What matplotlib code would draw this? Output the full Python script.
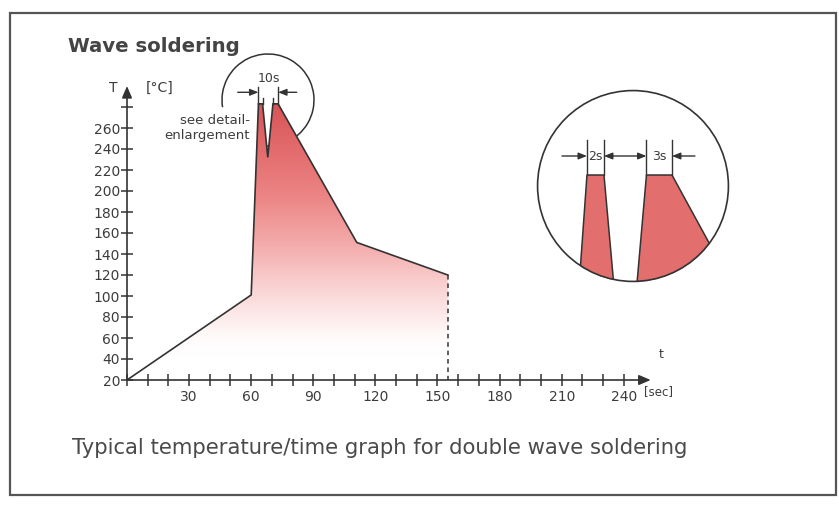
import numpy as np
import matplotlib
matplotlib.use("Agg")
import matplotlib.pyplot as plt
from matplotlib.patches import Polygon, Circle, Arc, Rectangle
from matplotlib.colors import LinearSegmentedColormap

# ---------------- data ----------------
time_s = [0, 60, 63.5, 65.5, 68, 70.5, 73, 111, 155]
temp_c = [20, 101, 283, 283, 232, 283, 283, 151, 120]
end_time = 155
x_major = [30, 60, 90, 120, 150, 180, 210, 240]
x_minor = list(range(0, 250, 10))
y_ticks = list(range(20, 300, 20))
y_labels = [str(v) if v <= 260 else "" for v in y_ticks]

# detail enlargement (schematic)
det1_t = [-1.06, 0, 2, 3.33]
det1_T = [220, 283, 283, 220]
det2_t = [5.7, 7, 10, 18.1]
det2_T = [220, 283, 283, 220]

TXT = "#3c3c3c"
LINE = "#333333"
W, H = 839, 505
fig = plt.figure(figsize=(W / 100, H / 100), dpi=100)
fig.patch.set_facecolor("white")

def fx(px):
    return px / W

def fy(py):
    return 1 - py / H

# overlay axes in pixel coordinates for frame and decorations
ov = fig.add_axes([0, 0, 1, 1])
ov.set_xlim(0, W)
ov.set_ylim(H, 0)
ov.axis("off")
ov.add_patch(Rectangle((10, 13), 826, 482, fill=False, ec="#555555", lw=1.6))
ov.text(68, 47, "Wave soldering", fontsize=14.2, fontweight="bold", color="#444444",
        ha="left", va="center")
ov.text(72, 448, "Typical temperature/time graph for double wave soldering",
        fontsize=15.2, color="#4a4a4a", ha="left", va="center")
ov.text(113, 88, "T", fontsize=10, color=TXT, ha="center", va="center")
ov.text(146, 88, "[°C]", fontsize=10, color=TXT, ha="left", va="center")
ov.text(661, 355, "t", fontsize=9, color=TXT, ha="center", va="center")
ov.text(644, 392, "[sec]", fontsize=8.5, color=TXT, ha="left", va="center")
ov.text(250, 128, "see detail-\nenlargement", fontsize=9.5, color=TXT, ha="right",
        va="center", linespacing=1.1)
# small magnifier circle (with gap behind text)
ov.add_patch(Arc((268, 100), 92, 92, theta1=171, theta2=104, color=LINE, lw=1.1))

# ---------------- main axes ----------------
x0, x1 = 0, 253
y0, y1 = 20, 300
ax = fig.add_axes([fx(127), fy(380), fx(127 + (x1 - x0) * 2.07) - fx(127),
                   fy(380 - (y1 - y0) * 1.05) - fy(380)])
ax.set_xlim(x0, x1)
ax.set_ylim(y0, y1)
ax.patch.set_alpha(0)
for s in ax.spines.values():
    s.set_visible(False)

cmap = LinearSegmentedColormap.from_list(
    "heat",
    [(0.0, (1, 1, 1)),
     (0.08, (1, 0.985, 0.985)),
     (0.25, (0.985, 0.85, 0.85)),
     (0.45, (0.955, 0.67, 0.67)),
     (0.65, (0.925, 0.51, 0.51)),
     (1.0, (0.85, 0.33, 0.34))])
poly_pts = list(zip(time_s, temp_c)) + [(end_time, 20), (0, 20)]
clip_poly = Polygon(poly_pts, closed=True, fc="none", ec="none")
ax.add_patch(clip_poly)
grad = np.clip((np.linspace(20, 283, 256) - 40) / (283 - 40), 0, 1).reshape(-1, 1)
im = ax.imshow(grad, cmap=cmap, origin="lower", aspect="auto",
               extent=(0, end_time, 20, 283), vmin=0, vmax=1, zorder=1)
im.set_clip_path(clip_poly)
ax.plot(time_s, temp_c, color=LINE, lw=1.2, zorder=3, solid_joinstyle="miter")
ax.plot([end_time, end_time], [temp_c[-1], 20], color=LINE, lw=1.1,
        ls=(0, (3, 2.5)), zorder=3)

# axes arrows
ax.annotate("", xy=(x1, 20), xytext=(0, 20), annotation_clip=False,
            arrowprops=dict(arrowstyle="-|>,head_length=0.7,head_width=0.3",
                            color=LINE, lw=1.2, shrinkA=0, shrinkB=0))
ax.annotate("", xy=(0, y1), xytext=(0, 20), annotation_clip=False,
            arrowprops=dict(arrowstyle="-|>,head_length=0.7,head_width=0.3",
                            color=LINE, lw=1.2, shrinkA=0, shrinkB=0))

ax.set_xticks(x_major)
ax.set_xticklabels([str(v) for v in x_major])
ax.set_xticks(x_minor, minor=True)
ax.set_yticks(y_ticks)
ax.set_yticklabels(y_labels)
ax.tick_params(axis="both", which="both", direction="inout", length=8, width=1.1,
               color=LINE, labelcolor=TXT, labelsize=10)
ax.tick_params(axis="x", which="major", pad=3)
ax.tick_params(axis="y", which="major", pad=1)

# 10 s dimension marker
top_T = temp_c[2]
ax.plot([time_s[2]] * 2, [top_T, 299], color=LINE, lw=1, clip_on=False)
ax.plot([time_s[6]] * 2, [top_T, 299], color=LINE, lw=1, clip_on=False)
ax.plot([time_s[3]] * 2, [top_T, 289], color=LINE, lw=1, clip_on=False)
ax.plot([time_s[5]] * 2, [top_T, 289], color=LINE, lw=1, clip_on=False)
ax.annotate("", xy=(time_s[2], 294), xytext=(53.5, 294), annotation_clip=False,
            arrowprops=dict(arrowstyle="-|>,head_length=0.5,head_width=0.2",
                            color=LINE, lw=1, shrinkA=0, shrinkB=0))
ax.annotate("", xy=(time_s[6], 294), xytext=(82, 294), annotation_clip=False,
            arrowprops=dict(arrowstyle="-|>,head_length=0.5,head_width=0.2",
                            color=LINE, lw=1, shrinkA=0, shrinkB=0))
ax.text(68.5, 307, "10s", fontsize=9, color=TXT, ha="center", va="center",
        clip_on=False)

# ---------------- detail enlargement inset ----------------
cx0, cy0, cs = 537, 90, 192
ins = fig.add_axes([fx(cx0), fy(cy0 + cs), fx(cs), cs / H])
ins.set_xlim(-5.88, 16.71)
ins.set_ylim(229.5, 325.5)
ins.axis("off")
circ = Circle((0.5, 0.5), 0.5, transform=ins.transAxes, fc="none", ec="none")
ins.add_patch(circ)
for tt, TT in ((det1_t, det1_T), (det2_t, det2_T)):
    p = Polygon(list(zip(tt, TT)), closed=True, fc=(0.89, 0.43, 0.43),
                ec="none", zorder=1)
    ins.add_patch(p)
    p.set_clip_path(circ)
    ln, = ins.plot(tt, TT, color=LINE, lw=1.1, zorder=2)
    ln.set_clip_path(circ)
ins.add_patch(Circle((0.5, 0.5), 0.497, transform=ins.transAxes, fill=False,
                     ec=LINE, lw=1.2, zorder=3, clip_on=False))
for xv in (det1_t[1], det1_t[2], det2_t[1], det2_t[2]):
    ins.plot([xv, xv], [283, 300.5], color=LINE, lw=1)
ay = 292.5
ap = dict(arrowstyle="-|>,head_length=0.5,head_width=0.2", color=LINE, lw=1,
          shrinkA=0, shrinkB=0)
ins.annotate("", xy=(det1_t[1], ay), xytext=(-2.94, ay), arrowprops=ap)
ins.annotate("", xy=(det2_t[2], ay), xytext=(12.7, ay), arrowprops=ap)
ins.annotate("", xy=(det2_t[1], ay), xytext=(det1_t[2], ay),
             arrowprops=dict(arrowstyle="<|-|>,head_length=0.5,head_width=0.2",
                             color=LINE, lw=1, shrinkA=0, shrinkB=0))
ins.text(1.0, ay, "2s", fontsize=9, color=TXT, ha="center", va="center")
ins.text(8.5, ay, "3s", fontsize=9, color=TXT, ha="center", va="center")

fig.savefig("out.png", dpi=100, facecolor="white")
